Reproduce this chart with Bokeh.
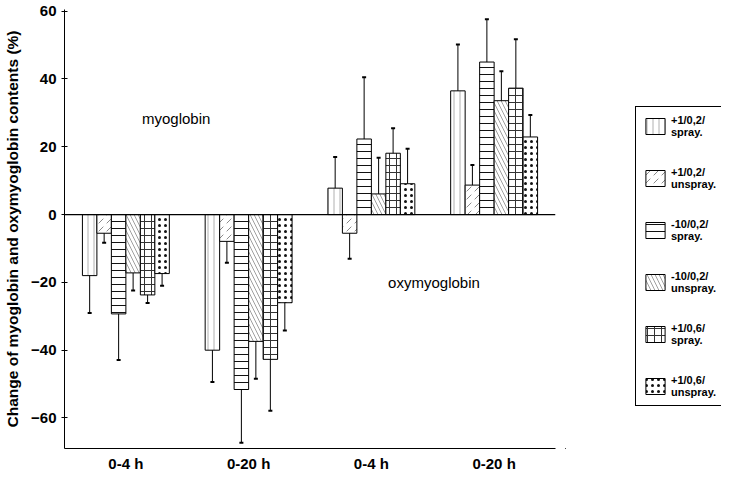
import numpy as np
from bokeh.plotting import figure
from bokeh.layouts import row
from bokeh.models import (Legend, LegendItem, Span, FixedTicker, Label,
                          ColumnDataSource, Range1d)
from bokeh.embed import file_html
from bokeh.resources import INLINE

# ---- data ----
group_labels = ["0-4 h", "0-20 h", "0-4 h", "0-20 h"]
series_names = ["+1/0,2/\nspray.", "+1/0,2/\nunspray.", "-10/0,2/\nspray.",
                "-10/0,2/\nunspray.", "+1/0,6/\nspray.", "+1/0,6/\nunspray."]
s1_vals = [-18.0, -40.0, 7.8, 36.5]
s2_vals = [-5.5, -7.9, -5.5, 8.7]
s3_vals = [-29.3, -51.6, 22.3, 45.0]
s4_vals = [-17.2, -37.4, 6.1, 33.6]
s5_vals = [-23.7, -42.7, 18.1, 37.3]
s6_vals = [-17.4, -26.0, 9.1, 22.9]
s1_err = [11.0, 9.4, 9.2, 13.7]
s2_err = [2.8, 6.3, 7.5, 5.9]
s3_err = [13.6, 15.7, 18.2, 12.6]
s4_err = [5.2, 11.0, 10.7, 8.7]
s5_err = [2.4, 15.2, 7.4, 14.4]
s6_err = [3.6, 8.2, 10.3, 6.5]
y_ticks = [-60, -40, -20, 0, 20, 40, 60]

all_vals = [s1_vals, s2_vals, s3_vals, s4_vals, s5_vals, s6_vals]
all_errs = [s1_err, s2_err, s3_err, s4_err, s5_err, s6_err]

# ---- styles ----
hatches = [
    dict(hatch_pattern="vertical_line", hatch_scale=6, hatch_color="#b0b0b0", hatch_weight=1),
    dict(hatch_pattern="right_diagonal_dash", hatch_scale=8, hatch_color="#8a8a8a", hatch_weight=1),
    dict(hatch_pattern="horizontal_line", hatch_scale=7, hatch_color="#111111", hatch_weight=1),
    dict(hatch_pattern="left_diagonal_line", hatch_scale=8, hatch_color="#a0a0a0", hatch_weight=1),
    dict(hatch_pattern="cross", hatch_scale=7, hatch_color="#333333", hatch_weight=1),
    dict(hatch_pattern="dot", hatch_scale=6, hatch_color="#111111", hatch_weight=2),
]

FONT = "Liberation Sans"

p = figure(width=565, height=474, output_backend="svg", toolbar_location=None,
           x_range=Range1d(0.5, 4.5), y_range=Range1d(-69, 60.5),
           min_border_left=64, min_border_right=10, min_border_top=9,
           min_border_bottom=22)
p.outline_line_color = None
p.xgrid.visible = False
p.ygrid.visible = False

bw = 0.118
groups = np.arange(1, 5)
for i, (vals, errs) in enumerate(zip(all_vals, all_errs)):
    xs = groups + (i - 2.5) * bw
    vals = np.array(vals)
    errs = np.array(errs)
    ends = vals + np.sign(vals) * errs
    src = ColumnDataSource(dict(x=xs, top=vals, end=ends))
    p.vbar(x="x", top="top", bottom=0, width=bw, source=src,
           fill_color="white", line_color="black", line_width=1, **hatches[i])
    p.segment(x0="x", y0="top", x1="x", y1="end", source=src,
              line_color="black", line_width=1)
    p.scatter(x="x", y="end", source=src, marker="dash", size=4,
              line_color="black", line_width=2)

p.add_layout(Span(location=0, dimension="width", line_color="black", line_width=1.2))

# axes
p.yaxis.ticker = FixedTicker(ticks=y_ticks)
p.yaxis.minor_tick_line_color = None
p.yaxis.major_tick_in = 3
p.yaxis.major_tick_out = 3
p.yaxis.major_label_standoff = 5
p.yaxis.axis_label = "Change of myoglobin and oxymyoglobin contents (%)"
p.yaxis.axis_label_text_font = FONT
p.yaxis.axis_label_text_font_style = "bold"
p.yaxis.axis_label_text_font_size = "15.5px"
p.yaxis.axis_label_text_color = "black"
p.yaxis.axis_label_standoff = 7
p.yaxis.major_label_text_font = FONT
p.yaxis.major_label_text_font_style = "bold"
p.yaxis.major_label_text_font_size = "15px"
p.yaxis.major_label_text_color = "black"
p.yaxis.axis_line_color = "black"
p.yaxis.major_tick_line_color = "black"

p.xaxis.ticker = FixedTicker(ticks=list(groups))
p.xaxis.major_label_overrides = {int(g): lab for g, lab in zip(groups, group_labels)}
p.xaxis.minor_tick_line_color = None
p.xaxis.major_tick_line_color = None
p.xaxis.major_tick_out = 0
p.xaxis.major_tick_in = 0
p.xaxis.major_label_standoff = 6
p.xaxis.major_label_text_font = FONT
p.xaxis.major_label_text_font_style = "bold"
p.xaxis.major_label_text_font_size = "15px"
p.xaxis.major_label_text_color = "black"
p.xaxis.axis_line_color = "black"

p.add_layout(Label(x=1.41, y=28.4, text="myoglobin", text_align="center",
                   text_baseline="middle", text_font=FONT, text_font_size="15px",
                   text_color="black"))
p.add_layout(Label(x=3.51, y=-19.9, text="oxymyoglobin", text_align="center",
                   text_baseline="middle", text_font=FONT, text_font_size="15px",
                   text_color="black"))

# ---- legend panel (separate figure holding only the legend) ----
lf = figure(width=156, height=474, output_backend="svg", toolbar_location=None,
            x_range=Range1d(0, 1), y_range=Range1d(0, 1),
            min_border=0)
lf.axis.visible = False
lf.grid.visible = False
lf.outline_line_color = None
items = []
for i, name in enumerate(series_names):
    # placeholder glyph outside the visible range: only its style is shown in the legend
    r = lf.vbar(x=[-5], top=[-5], bottom=[-6], width=0.1, fill_color="white",
                line_color="black", line_width=1, **hatches[i])
    items.append(LegendItem(label=name, renderers=[r]))

legend = Legend(items=items, location=(70, 42), orientation="vertical",
                glyph_width=24, glyph_height=20, label_text_font=FONT,
                label_text_font_size="11px", label_text_font_style="bold",
                label_text_color="black",
                label_standoff=4, spacing=28, padding=7, margin=0,
                border_line_color="black", border_line_width=1, border_line_alpha=1,
                background_fill_color="white", background_fill_alpha=1)
lf.add_layout(legend, "center")

layout = row(p, lf)
open("out.html", "w").write(file_html(layout, INLINE))
